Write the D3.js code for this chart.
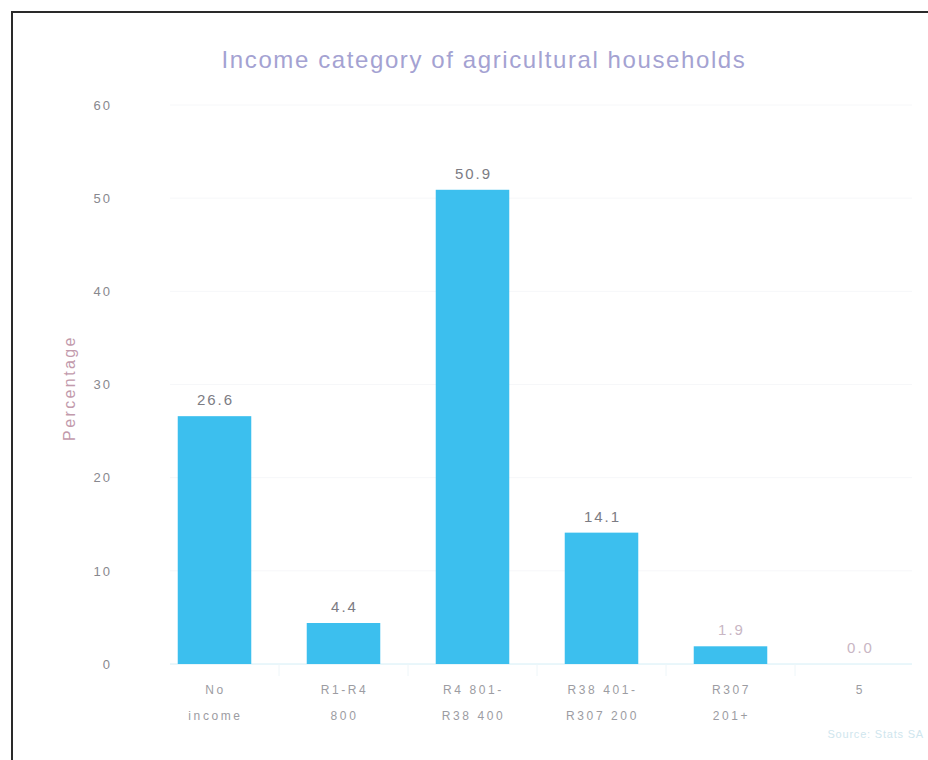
<!DOCTYPE html>
<html>
<head>
<meta charset="utf-8">
<script src="https://cdn.jsdelivr.net/npm/d3@7"></script>
<style>
  html, body { margin: 0; padding: 0; background: #fff; }
  svg { display: block; font-family: "Liberation Sans", Arial, sans-serif; }
</style>
</head>
<body>
<svg id="chart" width="928" height="760"></svg>
<script>
// Income category of agricultural households (percentage)
const categories = [
  ["No", "income"],
  ["R1-R4", "800"],
  ["R4 801-", "R38 400"],
  ["R38 401-", "R307 200"],
  ["R307", "201+"],
  ["5"]
];
const values = [26.6, 4.4, 50.9, 14.1, 1.9, 0.0];
const yTicks = [0, 10, 20, 30, 40, 50, 60];

const svg = d3.select("#chart");

// frame lines (top and left edge)
svg.append("path")
  .attr("d", "M12,760 V12 H928")
  .attr("fill", "none")
  .attr("stroke", "#2a2a2a")
  .attr("stroke-width", 2);

const x = d3.scaleBand()
  .domain(d3.range(categories.length))
  .range([150, 924])
  .paddingInner(0.43)
  .paddingOuter(0.215);

const y = d3.scaleLinear().domain([0, 60]).range([664, 105]);

// faint horizontal grid
svg.append("g")
  .selectAll("line")
  .data(yTicks.filter(d => d > 0))
  .join("line")
  .attr("x1", 170).attr("x2", 912)
  .attr("y1", d => y(d)).attr("y2", d => y(d))
  .attr("stroke", "#f6f7f9");

// y axis labels
const yAxis = svg.append("g")
  .attr("transform", "translate(112,0)")
  .call(d3.axisLeft(y).tickValues(yTicks).tickSize(0).tickPadding(0));
yAxis.select(".domain").remove();
yAxis.selectAll("text")
  .attr("fill", "#88888e")
  .attr("font-size", 13)
  .attr("letter-spacing", "2px")
  .attr("font-family", "Liberation Sans, Arial, sans-serif");

// y axis title
svg.append("text")
  .attr("transform", "translate(75,388) rotate(-90)")
  .attr("text-anchor", "middle")
  .attr("fill", "#c29aac")
  .attr("font-size", 16)
  .attr("letter-spacing", "2.4px")
  .text("Percentage");

// chart title
svg.append("text")
  .attr("x", 484).attr("y", 68)
  .attr("text-anchor", "middle")
  .attr("fill", "#a4a2d2")
  .attr("font-size", 24)
  .attr("letter-spacing", "1.6px")
  .text("Income category of agricultural households");

// baseline
svg.append("line")
  .attr("x1", 170).attr("x2", 912)
  .attr("y1", y(0)).attr("y2", y(0))
  .attr("stroke", "#d4eef6");

// category tick marks below baseline
svg.append("g")
  .selectAll("line")
  .data(d3.range(1, categories.length))
  .join("line")
  .attr("x1", i => x(i) - x.step() * x.paddingInner() / 2)
  .attr("x2", i => x(i) - x.step() * x.paddingInner() / 2)
  .attr("y1", y(0)).attr("y2", y(0) + 12)
  .attr("stroke", "#eef6f9");

// bars
svg.append("g")
  .selectAll("rect")
  .data(values)
  .join("rect")
  .attr("x", (d, i) => x(i))
  .attr("width", x.bandwidth())
  .attr("y", d => y(d))
  .attr("height", d => y(0) - y(d))
  .attr("fill", "#3cbfee");

// value labels
svg.append("g")
  .selectAll("text")
  .data(values)
  .join("text")
  .attr("x", (d, i) => x(i) + x.bandwidth() / 2 + 1)
  .attr("y", d => y(d) - 11)
  .attr("text-anchor", "middle")
  .attr("fill", (d, i) => i >= 4 ? "#c9b6c4" : "#7c7c84")
  .attr("font-size", 15)
  .attr("letter-spacing", "2px")
  .text(d => d.toFixed(1));

// category labels
const cat = svg.append("g")
  .selectAll("text")
  .data(categories)
  .join("text")
  .attr("x", (d, i) => x(i) + x.bandwidth() / 2 + 1)
  .attr("y", 694)
  .attr("text-anchor", "middle")
  .attr("fill", "#9c9ca2")
  .attr("font-size", 12)
  .attr("letter-spacing", "2.6px");
cat.selectAll("tspan")
  .data(d => d)
  .join("tspan")
  .attr("x", function () { return d3.select(this.parentNode).attr("x"); })
  .attr("dy", (d, j) => j === 0 ? 0 : 26)
  .text(d => d);

// source note
svg.append("text")
  .attr("x", 924).attr("y", 738)
  .attr("text-anchor", "end")
  .attr("fill", "#cfe6ee")
  .attr("font-size", 11)
  .attr("letter-spacing", "0.8px")
  .text("Source: Stats SA");
</script>
</body>
</html>
